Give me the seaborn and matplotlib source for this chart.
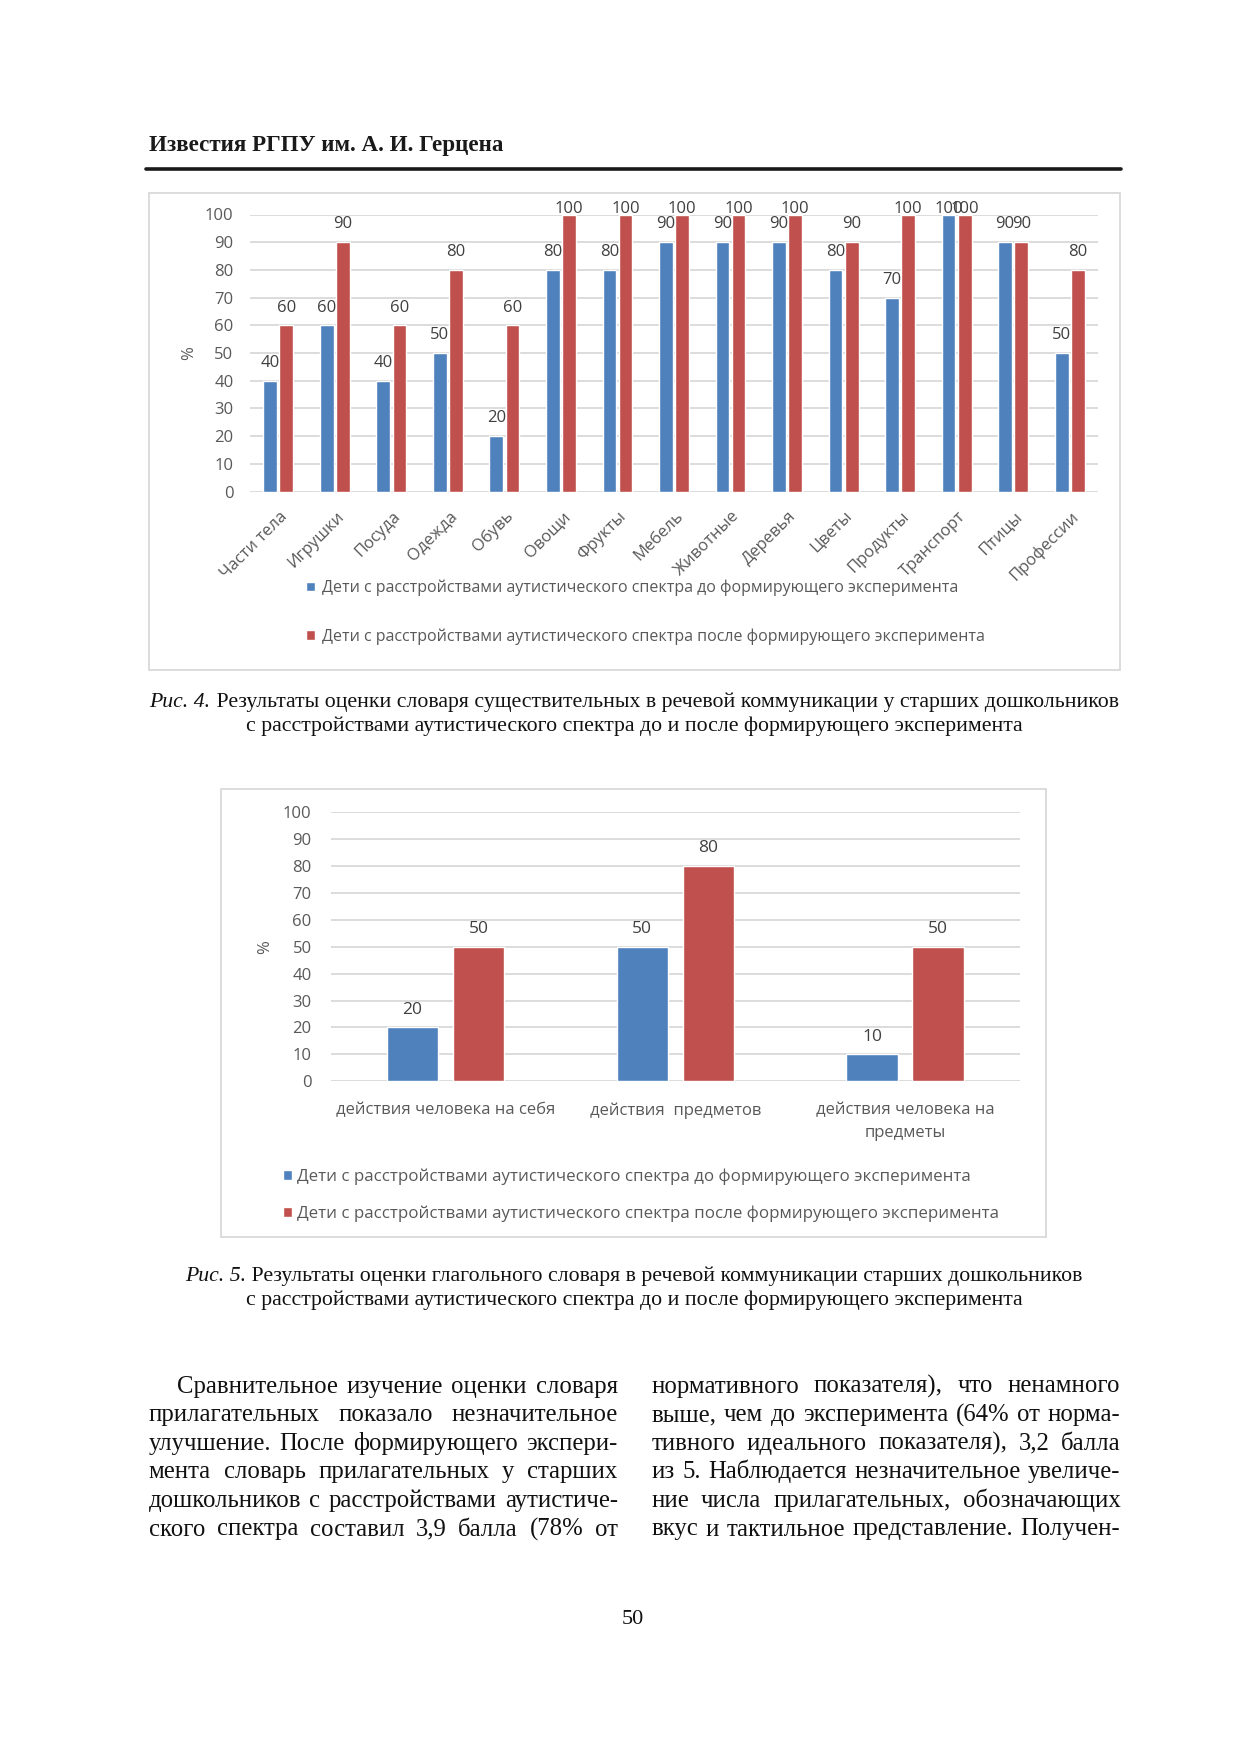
import numpy as np
import pandas as pd
import matplotlib
matplotlib.use("Agg")
import matplotlib.pyplot as plt
import seaborn as sns
from matplotlib.patches import Rectangle, Patch
from matplotlib.transforms import ScaledTranslation

# ---------------- data ----------------
cats1 = ["Части тела", "Игрушки", "Посуда", "Одежда", "Обувь", "Овощи", "Фрукты",
         "Мебель", "Животные", "Деревья", "Цветы", "Продукты", "Транспорт", "Птицы",
         "Профессии"]
before1 = [40, 60, 40, 50, 20, 80, 80, 90, 90, 90, 80, 70, 100, 90, 50]
after1 = [60, 90, 60, 80, 60, 100, 100, 100, 100, 100, 90, 100, 100, 90, 80]

cats2 = ["действия человека на себя", "действия  предметов", "действия человека на\nпредметы"]
before2 = [20, 50, 10]
after2 = [50, 80, 50]

series = ["Дети с расстройствами аутистического спектра до формирующего эксперимента",
          "Дети с расстройствами аутистического спектра после формирующего эксперимента"]
yticks = [0, 10, 20, 30, 40, 50, 60, 70, 80, 90, 100]

header = "Известия РГПУ им. А. И. Герцена"
cap1_it = "Рис. 4."
cap1_l1 = " Результаты оценки словаря существительных в речевой коммуникации у старших дошкольников"
cap2_it = "Рис. 5."
cap2_l1 = " Результаты оценки глагольного словаря в речевой коммуникации старших дошкольников"
cap_l2 = "с расстройствами аутистического спектра до и после формирующего эксперимента"
left_col = ["Сравнительное изучение оценки словаря",
            "прилагательных показало незначительное",
            "улучшение. После формирующего экспери-",
            "мента словарь прилагательных у старших",
            "дошкольников с расстройствами аутистиче-",
            "ского спектра составил 3,9 балла (78% от"]
right_col = ["нормативного показателя), что ненамного",
             "выше, чем до эксперимента (64% от норма-",
             "тивного идеального показателя), 3,2 балла",
             "из 5. Наблюдается незначительное увеличе-",
             "ние числа прилагательных, обозначающих",
             "вкус и тактильное представление. Получен-"]
page_no = "50"

# ---------------- style ----------------
BLUE = "#4F81BD"
RED = "#C0504D"
GRID = "#D9D9D9"
TXT = "#595959"
LBL = "#404040"
W, H = 1240, 1754

sns.set_style("white")
plt.rcParams["font.family"] = ["Open Sans", "DejaVu Sans"]
SERIF = ["Liberation Serif", "DejaVu Serif"]

fig = plt.figure(figsize=(W / 100, H / 100), dpi=100)
fig.patch.set_facecolor("white")
renderer = fig.canvas.get_renderer()


def fx(x):
    return x / W


def fy(y):
    return 1 - y / H


def add_axes(l, r, t, b):
    return fig.add_axes([fx(l), fy(b), (r - l) / W, (b - t) / H])


def frame(l, r, t, b):
    fig.add_artist(Rectangle((fx(l), fy(b)), (r - l) / W, (b - t) / H,
                             transform=fig.transFigure, fill=False,
                             ec=GRID, lw=1.3))


def style_axes(ax, ypad, lsize):
    ax.set_ylim(0, 100)
    ax.set_yticks(yticks)
    ax.yaxis.grid(True, color=GRID, lw=1.3)
    ax.set_axisbelow(True)
    for s in ax.spines.values():
        s.set_visible(False)
    ax.tick_params(axis="both", length=0, colors=TXT, labelsize=lsize)
    ax.tick_params(axis="y", pad=ypad)
    ax.set_xlabel("")


def make_df(cats, b, a):
    return pd.DataFrame({
        "cat": cats + cats,
        "grp": [series[0]] * len(cats) + [series[1]] * len(cats),
        "val": b + a,
    })


def label_bars(ax, size, top_pad=-1.5):
    for c in ax.containers:
        vals = [r.get_height() for r in c]
        normal = ["%g" % v if v < 100 else "" for v in vals]
        tops = ["%g" % v if v >= 100 else "" for v in vals]
        ax.bar_label(c, labels=normal, padding=7, fontsize=size, color=LBL)
        if any(tops):
            ax.bar_label(c, labels=tops, padding=top_pad, fontsize=size, color=LBL)


pal = {series[0]: BLUE, series[1]: RED}

# ---------------- chart 1 ----------------
frame(148.6, 1120, 193, 670)
ax1 = add_axes(250, 1098, 214.5, 491.5)
sns.barplot(data=make_df(cats1, before1, after1), x="cat", y="val", hue="grp",
            order=cats1, hue_order=series, palette=pal, width=0.57, gap=0.15,
            saturation=1, legend=False, ax=ax1, errorbar=None)
style_axes(ax1, 11.9, 12)
ax1.set_ylabel("%", color=TXT, fontsize=12)
ax1.yaxis.set_label_coords(-0.062, 0.5)
ax1.set_xticks(range(len(cats1)))
ax1.set_xticklabels(cats1, rotation=45, ha="right", va="top",
                    rotation_mode="anchor", fontsize=12, color=TXT)
ax1.tick_params(axis="x", pad=12)
off = ScaledTranslation(1 / 100, 0, fig.dpi_scale_trans)
for lab in ax1.get_xticklabels():
    lab.set_transform(lab.get_transform() + off)
label_bars(ax1, 12)
ax1.legend(handles=[Patch(fc=BLUE), Patch(fc=RED)], labels=series,
           loc="upper left", bbox_to_anchor=(fx(306), fy(579.5)),
           bbox_transform=fig.transFigure, frameon=False, borderpad=0,
           borderaxespad=0, handlelength=0.55, handleheight=0.55,
           handletextpad=0.45, labelspacing=2.02, fontsize=11.5,
           labelcolor=TXT)

# ---------------- chart 2 ----------------
frame(221.2, 1045.5, 788.6, 1236.5)
ax2 = add_axes(330.6, 1020, 812.1, 1081.3)
sns.barplot(data=make_df(cats2, before2, after2), x="cat", y="val", hue="grp",
            order=cats2, hue_order=series, palette=pal, width=0.574, gap=0.22,
            saturation=1, legend=False, ax=ax2, errorbar=None)
style_axes(ax2, 13.7, 12)
ax2.set_ylabel("%", color=TXT, fontsize=12)
ax2.yaxis.set_label_coords(-0.083, 0.5)
ax2.set_xticks(range(len(cats2)))
ax2.set_xticklabels(cats2, fontsize=12, color=TXT, linespacing=1.6)
ax2.tick_params(axis="x", pad=15)
label_bars(ax2, 12.5)
ax2.legend(handles=[Patch(fc=BLUE), Patch(fc=RED)], labels=series,
           loc="upper left", bbox_to_anchor=(fx(283), fy(1168.5)),
           bbox_transform=fig.transFigure, frameon=False, borderpad=0,
           borderaxespad=0, handlelength=0.55, handleheight=0.55,
           handletextpad=0.3, labelspacing=1.22, fontsize=12.2,
           labelcolor=TXT)

# ---------------- page text ----------------
def width_of(t):
    return t.get_window_extent(renderer).width


def fit_size(s, target, base=16, **kw):
    t = fig.text(0, 0, s, fontsize=base, **kw)
    w = width_of(t)
    t.remove()
    return base * target / w


# header
hs = fit_size(header, 355, family=SERIF, weight="bold")
fig.text(fx(148.6), fy(151), header, family=SERIF, weight="bold", fontsize=hs,
         color="#1a1a1a", va="baseline", ha="left")
fig.add_artist(plt.Line2D([fx(146), fx(1121)], [fy(168.7), fy(168.7)],
                          transform=fig.transFigure, color="#1a1a1a", lw=2.6))

# captions
cs = fit_size(cap_l2, 775, family=SERIF)


def caption(it, rest, y1, y2):
    a = fig.text(0, fy(y1), it, family=SERIF, style="italic", fontsize=cs,
                 va="baseline", color="#111111")
    b = fig.text(0, fy(y1), rest, family=SERIF, fontsize=cs, va="baseline",
                 color="#111111")
    wa, wb = width_of(a), width_of(b)
    x0 = 634 - (wa + wb) / 2
    a.set_x(fx(x0))
    b.set_x(fx(x0 + wa))
    fig.text(fx(634), fy(y2), cap_l2, family=SERIF, fontsize=cs, ha="center",
             va="baseline", color="#111111")


caption(cap1_it, cap1_l1, 707, 730.5)
caption(cap2_it, cap2_l1, 1281, 1305.5)

# justified body text: size chosen so the tightest line keeps a normal word space
LX0, LX1, RX0, RX1, IND = 148.6, 617.7, 651.2, 1120.4, 176.5
spans = [(line, (IND if i == 0 else LX0), LX1) for i, line in enumerate(left_col)] + \
        [(line, RX0, RX1) for line in right_col]
BODY = min(fit_size(line, x1 - x0, family=SERIF) for line, x0, x1 in spans) * 0.99


def justify(line, x0, x1, y):
    words = line.split()
    arts = [fig.text(0, fy(y), w, family=SERIF, fontsize=BODY, va="baseline",
                     color="#111111") for w in words]
    ws = [width_of(a) for a in arts]
    gap = (x1 - x0 - sum(ws)) / max(len(words) - 1, 1)
    x = x0
    for a, w in zip(arts, ws):
        a.set_x(fx(x))
        x += w + gap


for i, line in enumerate(left_col):
    justify(line, IND if i == 0 else LX0, LX1, 1392.5 + i * 28.6)
for i, line in enumerate(right_col):
    justify(line, RX0, RX1, 1392.5 + i * 28.6)

fig.text(fx(633), fy(1624), page_no, family=SERIF, fontsize=16, ha="center",
         va="baseline", color="#111111")

fig.savefig("out.png", dpi=100, facecolor="white")
